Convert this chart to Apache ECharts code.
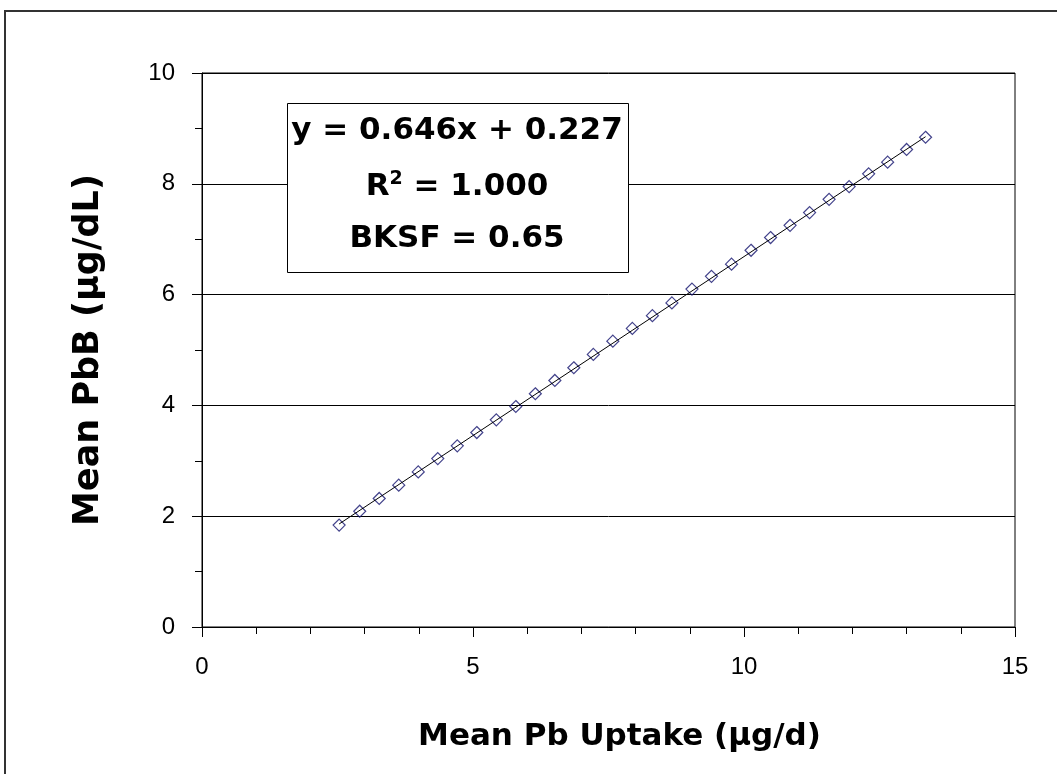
<!DOCTYPE html>
<html>
<head>
<meta charset="utf-8">
<script src="https://cdn.jsdelivr.net/npm/echarts@6/dist/echarts.min.js"></script>
<style>
  html, body { margin: 0; padding: 0; background: #fff; }
  #main { width: 1057px; height: 774px; }
</style>
</head>
<body>
<div id="main"></div>
<script>
// mean Pb uptake (ug/d) vs mean PbB (ug/dL)
const uptake = [2.53, 2.91, 3.27, 3.63, 3.99, 4.35, 4.71, 5.07, 5.43, 5.79, 6.15, 6.51, 6.86, 7.22, 7.58, 7.94,
  8.31, 8.67, 9.04, 9.40, 9.77, 10.13, 10.49, 10.85, 11.21, 11.57, 11.94, 12.30, 12.65, 13.00, 13.35]
const pbb = [1.84, 2.09, 2.32, 2.56, 2.80, 3.04, 3.27, 3.51, 3.74, 3.98, 4.21, 4.45, 4.68, 4.92, 5.16, 5.39,
  5.62, 5.85, 6.10, 6.33, 6.55, 6.80, 7.03, 7.25, 7.48, 7.72, 7.95, 8.18, 8.39, 8.62, 8.84]
// linear trendline end points
const trendX = [2.53, 13.35]
const trendY = [1.86, 8.85]
const eqLines = ['y = 0.646x + 0.227', '{t|R}{s|2}{t| = 1.000}', 'BKSF = 0.65']

const chart = echarts.init(document.getElementById('main'), null, { renderer: 'canvas' })
const boldFont = 'DejaVu Sans'

const option = {
  backgroundColor: '#fff',
  animation: false,
  grid: {
    left: 202,
    right: 42,
    top: 73,
    bottom: 147,
    show: true,
    borderColor: '#000',
    borderWidth: 1
  },
  xAxis: {
    type: 'value',
    min: 0,
    max: 15,
    interval: 5,
    name: 'Mean Pb Uptake (\u03bcg/d)',
    nameLocation: 'middle',
    nameGap: 94,
    nameTextStyle: { fontFamily: boldFont, fontWeight: 'bold', fontSize: 31, color: '#000', padding: [0, 0, 0, 22] },
    axisLine: { lineStyle: { color: '#000', width: 1 } },
    axisTick: { length: 10, lineStyle: { color: '#000' } },
    minorTick: { show: true, splitNumber: 5, length: 7, lineStyle: { color: '#000' } },
    axisLabel: { margin: 28, fontFamily: 'Liberation Sans', fontSize: 24, color: '#000' },
    splitLine: { show: false }
  },
  yAxis: {
    type: 'value',
    min: 0,
    max: 10,
    interval: 2,
    name: 'Mean PbB (\u03bcg/dL)',
    nameLocation: 'middle',
    nameGap: 96,
    nameTextStyle: { fontFamily: boldFont, fontWeight: 'bold', fontSize: 35, color: '#000' },
    axisLine: { lineStyle: { color: '#000', width: 1 } },
    axisTick: { length: 10, lineStyle: { color: '#000' } },
    minorTick: { show: true, splitNumber: 2, length: 7, lineStyle: { color: '#000' } },
    axisLabel: { margin: 27, fontFamily: 'Liberation Sans', fontSize: 24, color: '#000' },
    splitLine: { show: true, lineStyle: { color: '#000', width: 1 } }
  },
  series: [{
    type: 'scatter',
    symbol: 'diamond',
    symbolSize: 12,
    data: uptake.map((x, i) => [x, pbb[i]]),
    itemStyle: { color: 'rgba(255,255,255,0)', borderColor: '#14146e', borderWidth: 1.2 },
    z: 2
  }, {
    type: 'line',
    data: trendX.map((x, i) => [x, trendY[i]]),
    symbol: 'none',
    lineStyle: { color: '#000', width: 1 },
    z: 3
  }],
  graphic: [{
    type: 'rect',
    shape: { x: 5, y: 11, width: 1200, height: 900 },
    style: { fill: 'none', stroke: '#333', lineWidth: 2 },
    silent: true
  }, {
    type: 'rect',
    shape: { x: 287.5, y: 103.5, width: 341, height: 169 },
    style: { fill: '#fff', stroke: '#000', lineWidth: 1 },
    z: 10
  }, {
    type: 'text',
    x: 457, y: 131, z: 11,
    style: { text: eqLines[0], font: 'bold 31px "DejaVu Sans"', fill: '#000', align: 'center', verticalAlign: 'middle' }
  }, {
    type: 'text',
    x: 457, y: 186, z: 11,
    style: {
      text: eqLines[1], align: 'center', verticalAlign: 'middle',
      rich: {
        t: { fontFamily: boldFont, fontWeight: 'bold', fontSize: 31, color: '#000', verticalAlign: 'bottom' },
        s: { fontFamily: boldFont, fontWeight: 'bold', fontSize: 19, color: '#000', verticalAlign: 'top', padding: [0, 0, 14, 0] }
      }
    }
  }, {
    type: 'text',
    x: 457, y: 239, z: 11,
    style: { text: eqLines[2], font: 'bold 31px "DejaVu Sans"', fill: '#000', align: 'center', verticalAlign: 'middle' }
  }]
}

chart.setOption(option)
</script>
</body>
</html>
